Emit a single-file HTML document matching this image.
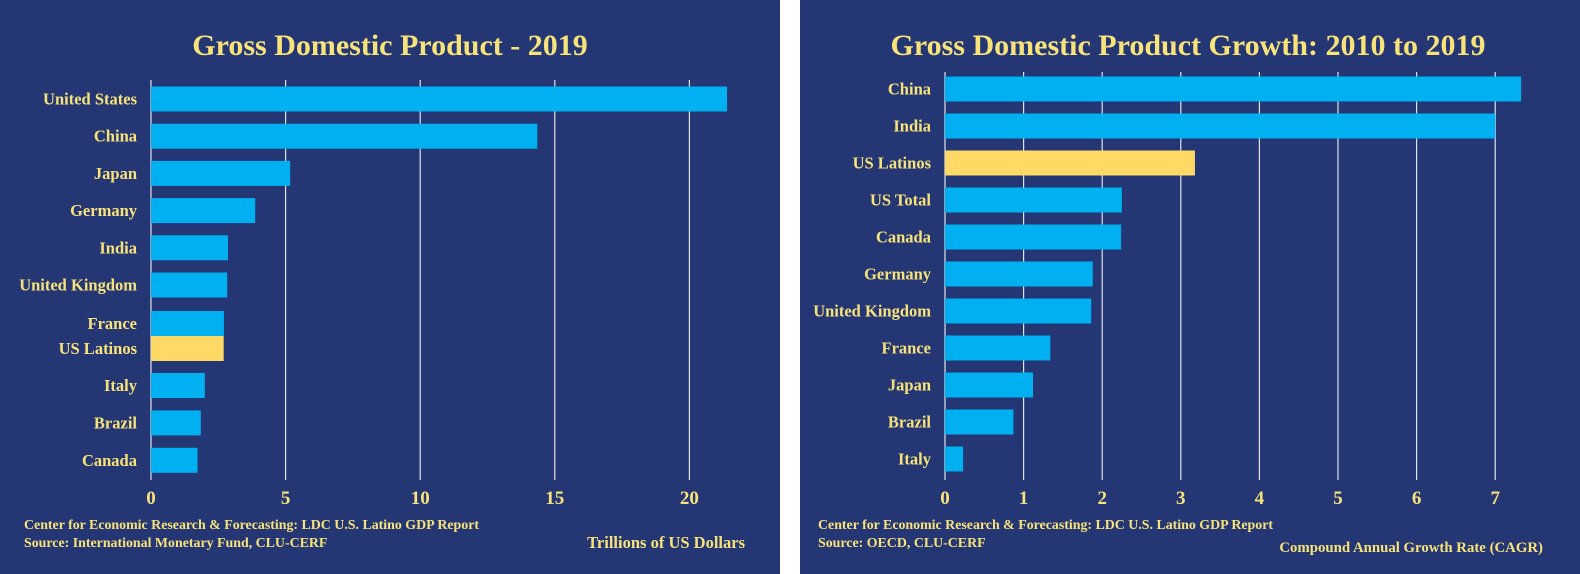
<!DOCTYPE html>
<html><head><meta charset="utf-8"><style>
html,body{margin:0;padding:0;background:#fff;width:1580px;height:574px;overflow:hidden}
svg{display:block}
.t{font-family:"Liberation Serif",serif;font-weight:bold;fill:#f7e37a}
.k{font-family:"Liberation Serif",serif;font-weight:bold;fill:#f7e37a;font-size:19px}
</style></head><body>
<svg id="s" width="1580" height="574" xmlns="http://www.w3.org/2000/svg">
<rect x="0" y="0" width="780" height="574" fill="#243673"/>
<rect x="800" y="0" width="780" height="574" fill="#243673"/>
<text class="t" x="390" y="55" font-size="30" text-anchor="middle">Gross Domestic Product - 2019</text>
<text class="t" x="1188" y="55" font-size="30" text-anchor="middle">Gross Domestic Product Growth: 2010 to 2019</text>
<text class="t" x="24" y="529" font-size="13.9">Center for Economic Research &amp; Forecasting: LDC U.S.  Latino GDP Report</text>
<text class="t" x="24" y="547" font-size="13.9">Source: International Monetary Fund, CLU-CERF</text>
<text class="t" x="745" y="548" font-size="16.5" text-anchor="end">Trillions of US Dollars</text>
<text class="t" x="818" y="529" font-size="13.9">Center for Economic Research &amp; Forecasting: LDC U.S.  Latino GDP Report</text>
<text class="t" x="818" y="547" font-size="13.9">Source: OECD, CLU-CERF</text>
<text class="t" x="1543" y="552" font-size="14.8" text-anchor="end">Compound Annual Growth Rate (CAGR)</text>
<g id="left"></g><g id="right"></g>
</svg>
<script>
const leftCats=["United States","China","Japan","Germany","India","United Kingdom","France","US Latinos","Italy","Brazil","Canada"];
const leftVals=[21.4,14.35,5.17,3.87,2.86,2.83,2.71,2.7,2.0,1.85,1.73];
const leftTicks=[0,5,10,15,20];
const rightCats=["China","India","US Latinos","US Total","Canada","Germany","United Kingdom","France","Japan","Brazil","Italy"];
const rightVals=[7.33,7.0,3.18,2.25,2.24,1.88,1.86,1.34,1.12,0.87,0.23];
const rightTicks=[0,1,2,3,4,5,6,7];
const NS="http://www.w3.org/2000/svg";
function mk(g,tag,a){const e=document.createElementNS(NS,tag);for(const k in a)e.setAttribute(k,a[k]);g.appendChild(e);return e;}
function draw(gid,cats,vals,ticks,x0,scale,yTop,yBot,centers,bh,pre,labelX){
  const g=document.getElementById(gid);
  const X=v=>x0+v*scale;
  ticks.forEach(t=>{
    const l=mk(g,'line',{x1:X(t),x2:X(t),y1:yTop,y2:yBot,stroke:'#dfe4f0','stroke-width':1.2});
    
    
    const tx=mk(g,'text',{x:X(t),y:504,'text-anchor':'middle',class:'k'});
    tx.textContent=t;
    
    
  });
  cats.forEach((c,i)=>{
    const y=centers(i);
    const r=mk(g,'rect',{x:x0,y:y-bh/2,width:X(vals[i])-x0,height:bh,fill:c==="US Latinos"?'#ffd966':'#00b0f0'});
    
    
    const tx=mk(g,'text',{x:labelX,y:y+5.5,'text-anchor':'end',class:'t','font-size':16.5});
    tx.textContent=c;
    
    
  });
}
draw('left',leftCats,leftVals,leftTicks,151,26.92,80,480,i=>{
  if(i<=5)return 99+i*37.2;
  if(i===6)return 323.5; if(i===7)return 348.5;
  return 385.5+(i-8)*37.4;},25,'left-',137);
draw('right',rightCats,rightVals,rightTicks,945,78.6,72,480,i=>89+i*37,25,'right-',931);
</script>
</body></html>
